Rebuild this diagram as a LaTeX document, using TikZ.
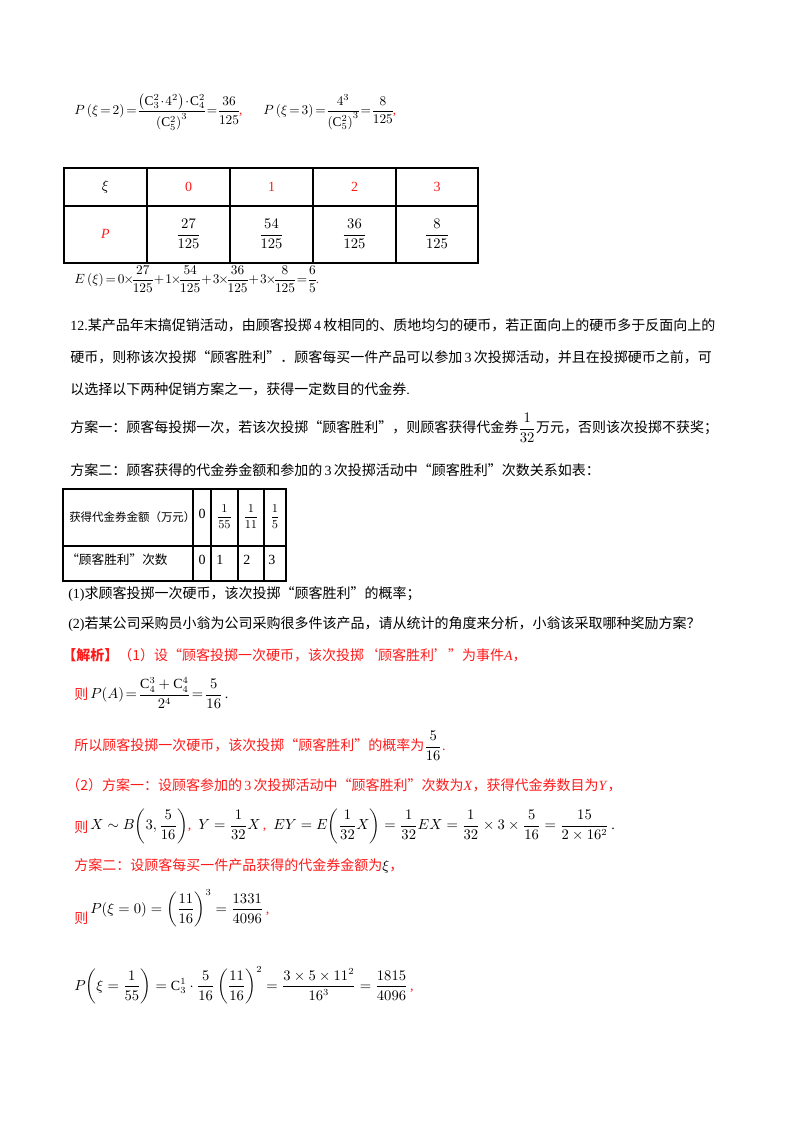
\documentclass[tikz,border=0pt]{standalone}
\usepackage{amsmath}
\usepackage{fontspec}
\setmainfont{Liberation Serif}
\newfontfamily\cjk{Noto Sans CJK SC}
\definecolor{rd}{HTML}{FF1A1A}
\newcommand{\tight}{\medmuskip=1.5mu\thickmuskip=2.5mu\nulldelimiterspace=0pt}
\tikzset{txt/.style={anchor=west,inner sep=0pt,font=\fontsize{10.5}{13}\selectfont},
 mth/.style={anchor=west,inner sep=0pt,font=\fontsize{10}{12}\selectfont\tight},
 ctr/.style={inner sep=0pt,font=\fontsize{10.5}{13}\selectfont},
 grid/.style={line width=0.9pt}}
\begin{document}
\begin{tikzpicture}[x=0.75pt,y=-0.75pt]
\useasboundingbox (0,0) rectangle (800,1132);
\node[mth] (f1) at (74,112) {$P\left(\xi=2\right)=\dfrac{\left(\mathrm{C}_3^2\cdot4^2\right)\cdot\mathrm{C}_4^2}{\left(\mathrm{C}_5^2\right)^3}=\dfrac{36}{125}$\textcolor{rd}{,}};
\node[mth] (f2) at (263,112) {$P\left(\xi=3\right)=\dfrac{4^3}{\left(\mathrm{C}_5^2\right)^3}=\dfrac{8}{125}$\textcolor{rd}{,}};
% table 1
\draw[grid] (64,168) rectangle (478,263);
\draw[grid] (64,206) -- (478,206);
\foreach \x in {147,230,313,396} \draw[grid] (\x,168) -- (\x,263);
\node[ctr] (h0) at (105.5,187) {$\xi$};
\node[ctr,text=rd] (h1) at (188.5,187) {0};
\node[ctr,text=rd] (h2) at (271.5,187) {1};
\node[ctr,text=rd] (h3) at (354.5,187) {2};
\node[ctr,text=rd] (h4) at (437,187) {3};
\node[ctr,text=rd] (p0) at (105.5,234) {\itshape P};
\node[ctr] (p1) at (188.5,234) {$\dfrac{27}{125}$};
\node[ctr] (p2) at (271.5,234) {$\dfrac{54}{125}$};
\node[ctr] (p3) at (354.5,234) {$\dfrac{36}{125}$};
\node[ctr] (p4) at (437,234) {$\dfrac{8}{125}$};
\node[mth] (ex) at (74,279) {$E\left(\xi\right)=0\!\times\!\dfrac{27}{125}+1\!\times\!\dfrac{54}{125}+3\!\times\!\dfrac{36}{125}+3\!\times\!\dfrac{8}{125}=\dfrac{6}{5}$\textcolor{rd}{.}};
% problem
\node[txt] (l1) at (70,325) {12.{\cjk 某产品年末搞促销活动，由顾客投掷}\,4\,{\cjk 枚相同的、质地均匀的硬币，若正面向上的硬币多于反面向上的}};
\node[txt] (l2) at (70,357) {{\cjk 硬币，则称该次投掷“顾客胜利”．顾客每买一件产品可以参加}\,3\,{\cjk 次投掷活动，并且在投掷硬币之前，可}};
\node[txt] (l3) at (70,389) {{\cjk 以选择以下两种促销方案之一，获得一定数目的代金券}.};
\node[txt] (l4) at (70,428) {{\cjk 方案一：顾客每投掷一次，若该次投掷“顾客胜利”，则顾客获得代金券}$\dfrac{1}{32}${\cjk 万元，否则该次投掷不获奖；}};
\node[txt] (l5) at (70,470) {{\cjk 方案二：顾客获得的代金券金额和参加的}\,3\,{\cjk 次投掷活动中“顾客胜利”次数关系如表：}};
% table 2
\draw[grid] (63,489) rectangle (286,581);
\draw[grid] (63,546) -- (286,546);
\foreach \x in {193,211,238,264} \draw[grid] (\x,489) -- (\x,581);
\node[txt,font=\fontsize{8.6}{10}\selectfont] (a0) at (69,517) {\cjk 获得代金券金额（万元）};
\node[ctr] (a1) at (202,514) {0};
\node[ctr,font=\fontsize{9.5}{11}\selectfont] (a2) at (224.5,517) {$\dfrac{1}{55}$};
\node[ctr,font=\fontsize{9.5}{11}\selectfont] (a3) at (251,517) {$\dfrac{1}{11}$};
\node[ctr,font=\fontsize{9.5}{11}\selectfont] (a4) at (275,517) {$\dfrac{1}{5}$};
\node[txt,font=\fontsize{9.5}{11}\selectfont] (b0) at (66,560) {\cjk “顾客胜利”次数};
\node[ctr] (b1) at (202,560) {0};
\node[txt] (b2) at (216,560) {1};
\node[txt] (b3) at (243,560) {2};
\node[txt] (b4) at (268,560) {3};
\node[txt] (q1) at (68,594) {(1){\cjk 求顾客投掷一次硬币，该次投掷“顾客胜利”的概率；}};
\node[txt] (q2) at (68,624) {(2){\cjk 若某公司采购员小翁为公司采购很多件该产品，请从统计的角度来分析，小翁该采取哪种奖励方案？}};
% solution
\begin{scope}[text=rd]
\node[txt] (s1) at (62,655) {{\cjk\bfseries 【解析】}{\cjk（1）设“顾客投掷一次硬币，该次投掷‘顾客胜利’”为事件}\textit{A}{\cjk ，}};
\node[txt] (s2) at (74,694) {\cjk 则};
\node[txt] (s3) at (74,746) {{\cjk 所以顾客投掷一次硬币，该次投掷“顾客胜利”的概率为}\textcolor{black}{$\dfrac{5}{16}$}.};
\node[txt] (s4) at (66,785) {{\cjk（2）方案一：设顾客参加的}\,3\,{\cjk 次投掷活动中“顾客胜利”次数为}\textit{X}{\cjk ，获得代金券数目为}\textit{Y}{\cjk ，}};
\node[txt] (s5) at (74,827) {\cjk 则};
\node[txt] (s6) at (74,866) {{\cjk 方案二：设顾客每买一件产品获得的代金券金额为}\textcolor{black}{$\xi$}{\cjk ，}};
\node[txt] (s7) at (74,918) {\cjk 则};
\end{scope}
\node[txt] (m1) at (90,693) {$P\!\left(A\right)\!=\!\dfrac{\mathrm{C}_4^3+\mathrm{C}_4^4}{2^4}\!=\!\dfrac{5}{16}$\,.};
\node[txt] (m2) at (90,826) {$X\sim B\!\left(3,\dfrac{5}{16}\right)$\textcolor{rd}{,}\ \ $Y=\dfrac{1}{32}X$\,\textcolor{rd}{,}\ \ $EY=E\!\left(\dfrac{1}{32}X\right)=\dfrac{1}{32}EX=\dfrac{1}{32}\times3\times\dfrac{5}{16}=\dfrac{15}{2\times16^2}$\,.};
\node[txt] (m3) at (90,908) {$P\!\left(\xi=0\right)=\left(\dfrac{11}{16}\right)^3=\dfrac{1331}{4096}$\textcolor{rd}{\,,}};
\node[txt] (m4) at (74,985) {$P\!\left(\xi=\dfrac{1}{55}\right)=\mathrm{C}_3^1\cdot\dfrac{5}{16}\left(\dfrac{11}{16}\right)^2=\dfrac{3\times5\times11^2}{16^3}=\dfrac{1815}{4096}$\textcolor{rd}{\,,}};
\end{tikzpicture}
\end{document}
